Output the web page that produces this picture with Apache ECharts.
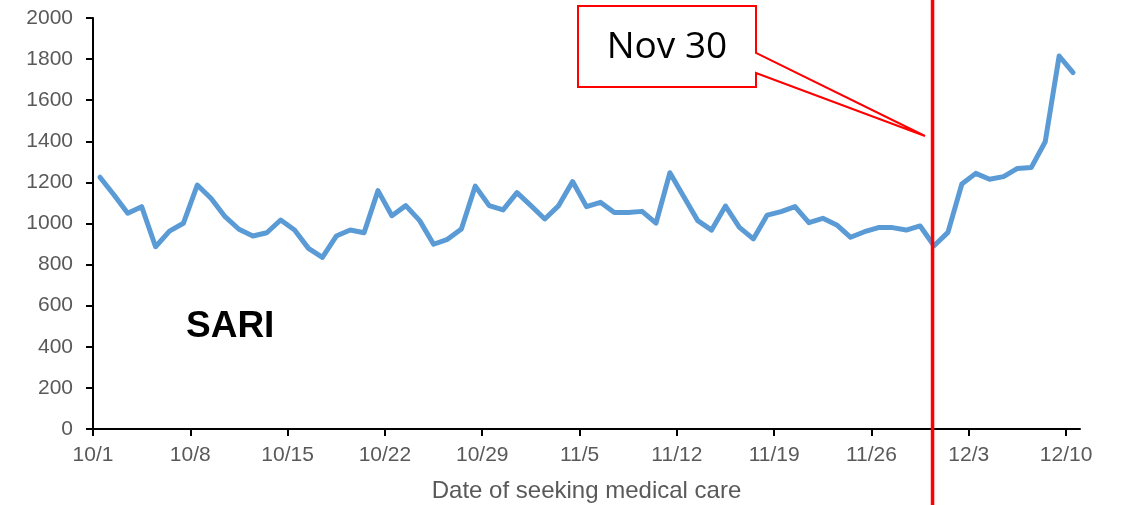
<!DOCTYPE html>
<html><head><meta charset="utf-8">
<script src="https://cdn.jsdelivr.net/npm/echarts@6/dist/echarts.min.js"></script>
<style>html,body{margin:0;padding:0;background:#fff}#c{width:1122px;height:505px}</style>
</head><body><div id="c"></div>
<script>
const dates = [
 '10/1','10/2','10/3','10/4','10/5','10/6','10/7','10/8','10/9','10/10','10/11','10/12','10/13','10/14','10/15','10/16','10/17','10/18','10/19','10/20','10/21','10/22','10/23','10/24','10/25','10/26','10/27','10/28','10/29','10/30','10/31',
 '11/1','11/2','11/3','11/4','11/5','11/6','11/7','11/8','11/9','11/10','11/11','11/12','11/13','11/14','11/15','11/16','11/17','11/18','11/19','11/20','11/21','11/22','11/23','11/24','11/25','11/26','11/27','11/28','11/29','11/30',
 '12/1','12/2','12/3','12/4','12/5','12/6','12/7','12/8','12/9','12/10'
];
const sari = [
 1225,1140,1050,1082,887,963,1001,1187,1122,1033,972,939,955,1017,968,879,835,939,968,955,1160,1038,1087,1014,899,923,973,1182,1087,1066,1150,
 1087,1022,1087,1204,1082,1103,1054,1054,1059,1002,1247,1130,1014,968,1085,981,925,1041,1058,1082,1004,1025,993,933,960,980,980,968,988,892,
 957,1192,1244,1215,1228,1268,1273,1398,1815,1734
];
const tickLabels = ['10/1','10/8','10/15','10/22','10/29','11/5','11/12','11/19','11/26','12/3','12/10'];
const markDate = '11/30';
const markText = 'Nov 30';
const seriesLabel = 'SARI';
const xTitle = 'Date of seeking medical care';
const yMin = 0, yMax = 2000, yStep = 200;

const tickVals = tickLabels.map(l => dates.indexOf(l));
const chart = echarts.init(document.getElementById('c'), null, {renderer: 'canvas'});
const labelFont = {color: '#595959', fontFamily: 'Liberation Sans, Arial, sans-serif', fontSize: 21};

chart.setOption({
  animation: false,
  backgroundColor: '#fff',
  grid: {left: 93, right: 42, top: 18, bottom: 76, containLabel: false, outerBoundsMode: 'none'},
  xAxis: {
    type: 'value', min: 0, max: dates.length, interval: 7,
    name: xTitle, nameLocation: 'middle', nameGap: 50,
    nameTextStyle: {color: '#595959', fontFamily: 'Liberation Sans, Arial, sans-serif', fontSize: 24},
    axisLine: {show: true, onZero: false, lineStyle: {color: '#000', width: 2}},
    axisTick: {show: true, inside: false, length: 7, lineStyle: {color: '#000', width: 2}, customValues: tickVals},
    axisLabel: Object.assign({margin: 16, customValues: tickVals, formatter: v => dates[Math.round(v)] || ''}, labelFont),
    splitLine: {show: false}
  },
  yAxis: {
    type: 'value', min: yMin, max: yMax, interval: yStep,
    axisLine: {show: true, lineStyle: {color: '#000', width: 2}},
    axisTick: {show: true, inside: false, length: 7, lineStyle: {color: '#000', width: 2}},
    axisLabel: Object.assign({margin: 20, formatter: v => String(v)}, labelFont),
    splitLine: {show: false}
  },
  series: [{
    type: 'line',
    data: sari.map((v, i) => [i + 0.5, v]),
    showSymbol: false,
    symbol: 'none',
    lineStyle: {color: '#5B9BD5', width: 5, join: 'round', cap: 'round'},
    z: 3
  }]
});

const mi = dates.indexOf(markDate);
const mx = chart.convertToPixel({xAxisIndex: 0, yAxisIndex: 0}, [mi + 0.5, 0])[0] - 1.5;
const H = chart.getHeight();

chart.setOption({
  graphic: [
    {type: 'line', z: 100, shape: {x1: mx, y1: 0, x2: mx, y2: H}, style: {stroke: '#FF0000', lineWidth: 3.5}},
    {type: 'polygon', z: 101, shape: {points: [[578,6],[756,6],[756,53],[925,136],[756,73],[756,87],[578,87]]},
     style: {fill: '#fff', stroke: '#FF0000', lineWidth: 2}},
    {type: 'text', z: 102, x: 667, y: 47, style: {text: markText, fill: '#000', font: '37px "Open Sans", sans-serif', align: 'center', verticalAlign: 'middle'}},
    {type: 'text', z: 102, x: 186, y: 327, style: {text: seriesLabel, fill: '#000', font: 'bold 37px "Liberation Sans", Arial, sans-serif', align: 'left', verticalAlign: 'middle'}}
  ]
});
</script>
</body></html>
